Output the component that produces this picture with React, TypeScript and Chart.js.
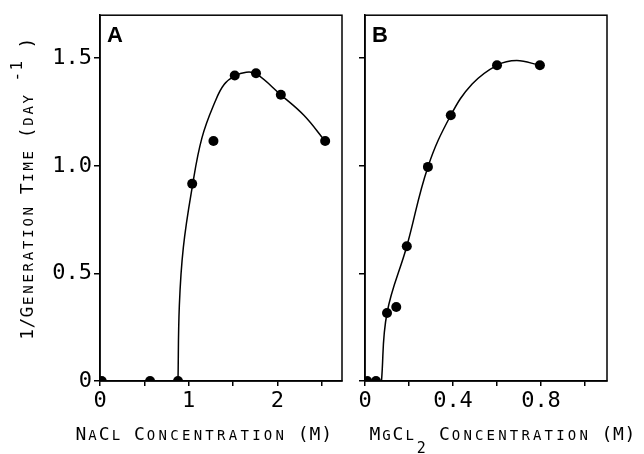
import React, { useEffect, useRef } from 'react';
import { Chart, registerables } from 'chart.js';

Chart.register(...registerables);

// ---- Panel A: NaCl ----
const naclConc = [0.02, 0.565, 0.88, 1.04, 1.28, 1.52, 1.76, 2.04, 2.54];
const naclRate = [0, 0, 0, 0.917, 1.115, 1.42, 1.43, 1.33, 1.115];
const naclFitConc = [0.88, 0.895, 0.94, 1.04, 1.15, 1.3, 1.4, 1.52, 1.65, 1.76, 2.04, 2.3, 2.54];
const naclFitRate = [0, 0.35, 0.62, 0.9, 1.13, 1.3, 1.378, 1.418, 1.435, 1.428, 1.33, 1.235, 1.115];
const naclTickValues = [0, 0.5, 1, 1.5, 2, 2.5];
const naclTickLabels = ['0', '', '1', '', '2', ''];

// ---- Panel B: MgCl2 ----
const mgConc = [0.01, 0.05, 0.1, 0.142, 0.19, 0.286, 0.39, 0.6, 0.795];
const mgRate = [0, 0, 0.316, 0.344, 0.626, 0.995, 1.235, 1.467, 1.467];
const mgFitConc = [0.075, 0.1, 0.19, 0.286, 0.39, 0.487, 0.6, 0.69, 0.795];
const mgFitRate = [0, 0.316, 0.626, 0.995, 1.235, 1.38, 1.467, 1.489, 1.467];
const mgTickValues = [0, 0.2, 0.4, 0.6, 0.8, 1.0];
const mgTickLabels = ['0', '', '0.4', '', '0.8', ''];

// ---- shared y axis ----
const rateTickValues = [0, 0.5, 1, 1.5];
const rateTickLabelsA = ['0', '0.5', '1.0', '1.5'];
const rateTickLabelsB = ['', '', '', ''];

const yTitleParts = [
  { t: '1/Generation Time (day ', mode: 'normal' },
  { t: '-1', mode: 'sup' },
  { t: ' )', mode: 'normal' },
];
const xTitleA = [{ t: 'NaCl Concentration (M)', mode: 'normal' }];
const xTitleB = [
  { t: 'MgCl', mode: 'normal' },
  { t: '2', mode: 'sub' },
  { t: ' Concentration (M)', mode: 'normal' },
];

const MONO = "'DejaVu Sans Mono', 'Liberation Mono', monospace";

function drawCaps(
  ctx: CanvasRenderingContext2D,
  parts: { t: string; mode: string }[],
  x0: number,
  y0: number,
  pitch: number
) {
  ctx.fillStyle = '#000';
  ctx.textAlign = 'center';
  ctx.textBaseline = 'alphabetic';
  let i = 0;
  for (const p of parts) {
    for (const c of p.t) {
      const cx = x0 + (i + 0.5) * pitch;
      let dy = 0;
      let size = 18;
      let ch = c;
      if (p.mode === 'sup') {
        dy = -11;
        size = 16;
      } else if (p.mode === 'sub') {
        dy = 13;
        size = 15;
      } else if (c >= 'a' && c <= 'z') {
        ch = c.toUpperCase();
        size = 14;
      }
      ctx.font = `${size}px ${MONO}`;
      ctx.fillText(ch, cx, y0 + dy);
      i++;
    }
  }
}

function makePlugin(panel: 'A' | 'B') {
  return {
    id: 'frame' + panel,
    afterDraw(chart: any) {
      const { ctx, chartArea: a } = chart;
      ctx.save();
      ctx.strokeStyle = '#000';
      ctx.lineWidth = 1.5;
      ctx.strokeRect(a.left, a.top, a.right - a.left, a.bottom - a.top);
      ctx.fillStyle = '#000';
      ctx.font = "bold 22px 'Liberation Sans', Arial, sans-serif";
      ctx.textAlign = 'left';
      ctx.textBaseline = 'alphabetic';
      ctx.fillText(panel, a.left + 7, a.top + 27);
      if (panel === 'A') {
        drawCaps(ctx, xTitleA, 75, 440, 11.7);
        ctx.save();
        ctx.translate(33, 340);
        ctx.rotate(-Math.PI / 2);
        drawCaps(ctx, yTitleParts, 0, 0, 11.2);
        ctx.restore();
      } else {
        drawCaps(ctx, xTitleB, 369, 440, 11.6);
      }
      ctx.restore();
    },
  };
}

function buildConfig(panel: 'A' | 'B'): any {
  const isA = panel === 'A';
  const conc = isA ? naclConc : mgConc;
  const rate = isA ? naclRate : mgRate;
  const fitC = isA ? naclFitConc : mgFitConc;
  const fitR = isA ? naclFitRate : mgFitRate;
  const xVals = isA ? naclTickValues : mgTickValues;
  const xLabs = isA ? naclTickLabels : mgTickLabels;
  const yLabs = isA ? rateTickLabelsA : rateTickLabelsB;
  const tickFont = { family: MONO, size: 22 };
  return {
    type: 'scatter',
    data: {
      datasets: [
        {
          data: fitC.map((x, i) => ({ x, y: fitR[i] })),
          showLine: true,
          borderColor: '#000',
          borderWidth: 1.5,
          pointRadius: 0,
          tension: 0.4,
          fill: false,
          clip: 0,
        },
        {
          data: conc.map((x, i) => ({ x, y: rate[i] })),
          showLine: false,
          pointRadius: 5,
          pointBackgroundColor: '#000',
          pointBorderWidth: 0,
          pointBorderColor: '#000',
          clip: 0,
        },
      ],
    },
    options: {
      animation: false,
      responsive: false,
      devicePixelRatio: 1,
      events: [],
      plugins: { legend: { display: false }, tooltip: { enabled: false } },
      layout: {
        padding: isA
          ? { left: 0, top: 14, right: 302, bottom: 0 }
          : { left: 344, top: 14, right: 37, bottom: 0 },
      },
      scales: {
        x: {
          type: 'linear',
          min: 0,
          max: isA ? 2.73 : 1.1,
          afterBuildTicks: (s: any) => {
            s.ticks = xVals.map((v) => ({ value: v }));
          },
          afterFit: (s: any) => {
            s.height = 73;
          },
          ticks: {
            autoSkip: false,
            maxRotation: 0,
            color: '#000',
            font: tickFont,
            padding: 2,
            callback: (_v: any, i: number) => xLabs[i],
          },
          grid: {
            drawOnChartArea: false,
            drawTicks: true,
            tickLength: 5,
            color: '#000',
            lineWidth: 1.5,
          },
          border: { display: true, color: '#000', width: 1.5 },
        },
        y: {
          type: 'linear',
          min: 0,
          max: 1.7,
          afterBuildTicks: (s: any) => {
            s.ticks = rateTickValues.map((v) => ({ value: v }));
          },
          afterFit: (s: any) => {
            s.width = isA ? 100 : 21;
          },
          ticks: {
            autoSkip: false,
            color: '#000',
            font: tickFont,
            padding: 2,
            callback: (_v: any, i: number) => yLabs[i],
          },
          grid: {
            drawOnChartArea: false,
            drawTicks: true,
            tickLength: 6,
            color: '#000',
            lineWidth: 1.5,
          },
          border: { display: true, color: '#000', width: 1.5 },
        },
      },
    },
    plugins: [makePlugin(panel)],
  };
}

export default function App() {
  const refA = useRef<HTMLCanvasElement>(null);
  const refB = useRef<HTMLCanvasElement>(null);
  useEffect(() => {
    const a = new Chart(refA.current as HTMLCanvasElement, buildConfig('A'));
    const b = new Chart(refB.current as HTMLCanvasElement, buildConfig('B'));
    return () => {
      a.destroy();
      b.destroy();
    };
  }, []);
  const cv: React.CSSProperties = { position: 'absolute', left: 0, top: 0, width: 644, height: 454 };
  return (
    <div style={{ position: 'fixed', left: 0, top: 0, width: 644, height: 454, background: '#fff' }}>
      <canvas ref={refA} width={644} height={454} style={cv} />
      <canvas ref={refB} width={644} height={454} style={cv} />
    </div>
  );
}
